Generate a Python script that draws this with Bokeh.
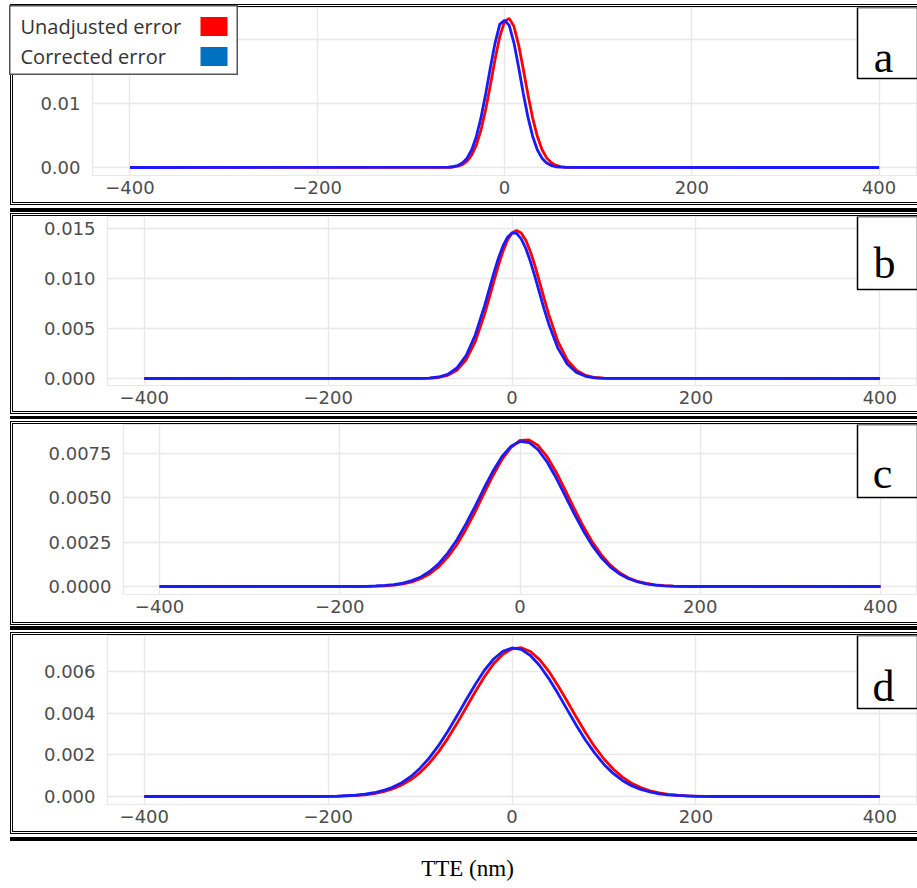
from bokeh.plotting import figure
from bokeh.models import Range1d, FixedTicker, PrintfTickFormatter, BoxAnnotation, Label, Div
from bokeh.layouts import column
from bokeh.embed import file_html
from bokeh.resources import INLINE

# ---------------- data ----------------
x_ticks = [-400, -200, 0, 200, 400]
x_tick_labels = ["\u2212400", "\u2212200", "0", "200", "400"]
series_names = ["Unadjusted error", "Corrected error"]
panel_letters = ["a", "b", "c", "d"]
x_axis_title = "TTE (nm)"

# panel a
a_x = [-400, -60, -55, -50, -45, -40, -35, -30, -25, -20, -15, -10, -5, 0, 5,
       10, 15, 20, 25, 30, 35, 40, 45, 50, 55, 60, 65, 70, 400]
a_unadjusted = [0, 0.00003, 0.00008, 0.0002, 0.00046, 0.00099, 0.00195, 0.00354, 0.00593,
                0.00914, 0.01298, 0.01699, 0.0205, 0.0228, 0.0233, 0.02206, 0.0192, 0.01541,
                0.01139, 0.00776, 0.00487, 0.00282, 0.0015, 0.00074, 0.00033, 0.00014,
                0.00005, 0.00002, 0]
a_corrected = [0, 0.00005, 0.00012, 0.0003, 0.0007, 0.00146, 0.00278, 0.00489, 0.00787,
               0.01161, 0.01572, 0.01952, 0.0224, 0.0230, 0.0222, 0.01952, 0.01572, 0.01161,
               0.00787, 0.00489, 0.00278, 0.00146, 0.0007, 0.0003, 0.00012, 0.00005,
               0.00002, 0.00001, 0]
a_y_ticks = [0.0, 0.01, 0.02]

# panel b
b_x = [-400, -100, -90, -80, -70, -60, -50, -40, -30, -25, -20, -15, -10, -5, 0, 5, 10,
       15, 20, 25, 30, 35, 40, 50, 60, 70, 80, 90, 100, 110, 400]
b_unadjusted = [0, 0.00001, 0.00003, 0.0001, 0.00031, 0.00082, 0.00186, 0.00369, 0.00639,
                0.00798, 0.00964, 0.01125, 0.01268, 0.01382, 0.01455, 0.0148, 0.01455,
                0.01382, 0.01268, 0.01125, 0.00964, 0.00798, 0.00639, 0.00369, 0.00186,
                0.00082, 0.00031, 0.0001, 0.00003, 0.00001, 0]
b_corrected = [0, 0.00001, 0.00004, 0.00015, 0.00042, 0.00105, 0.00228, 0.00435, 0.00724,
               0.00886, 0.01048, 0.01198, 0.01323, 0.01412, 0.01456, 0.01451, 0.01397,
               0.013, 0.01169, 0.01016, 0.00853, 0.00692, 0.00543, 0.00301, 0.00145,
               0.00061, 0.00022, 0.00007, 0.00002, 0.00001, 0]
b_y_ticks = [0.0, 0.005, 0.010, 0.015]

# panel c
c_x = [-400, -180, -170, -160, -150, -140, -130, -120, -110, -100, -90, -80, -70, -60, -50,
       -40, -30, -20, -10, 0, 10, 20, 30, 40, 50, 60, 70, 80, 90, 100, 110, 120, 130, 140,
       150, 160, 170, 180, 190, 400]
c_unadjusted = [0, 0.0, 0.00001, 0.00002, 0.00004, 0.00008, 0.00015, 0.00026, 0.00045,
                0.00072, 0.00112, 0.00167, 0.00237, 0.00323, 0.0042, 0.00525, 0.00626,
                0.00717, 0.00785, 0.00824, 0.00827, 0.00795, 0.00732, 0.00646, 0.00545,
                0.00441, 0.00341, 0.00253, 0.0018, 0.00122, 0.00079, 0.00049, 0.00029,
                0.00017, 0.00009, 0.00005, 0.00002, 0.00001, 0.0, 0]
c_corrected = [0, 0.00001, 0.00001, 0.00003, 0.00006, 0.00011, 0.00019, 0.00033, 0.00054,
               0.00086, 0.0013, 0.0019, 0.00264, 0.00353, 0.00451, 0.00554, 0.00651,
               0.00733, 0.00791, 0.00818, 0.00812, 0.00771, 0.00702, 0.00613, 0.00513,
               0.00411, 0.00316, 0.00232, 0.00164, 0.00111, 0.00072, 0.00045, 0.00027,
               0.00015, 0.00008, 0.00004, 0.00002, 0.00001, 0.00001, 0]
c_y_ticks = [0.0, 0.0025, 0.005, 0.0075]

# panel d
d_x = [-400, -220, -210, -200, -190, -180, -170, -160, -150, -140, -130, -120, -110, -100,
       -90, -80, -70, -60, -50, -40, -30, -20, -10, 0, 10, 20, 30, 40, 50, 60, 70, 80, 90,
       100, 110, 120, 130, 140, 150, 160, 170, 180, 190, 200, 210, 220, 230, 400]
d_unadjusted = [0, 0.0, 0.0, 0.00001, 0.00001, 0.00003, 0.00005, 0.00008, 0.00014, 0.00023,
                0.00036, 0.00055, 0.00081, 0.00115, 0.0016, 0.00214, 0.00278, 0.0035,
                0.00426, 0.00503, 0.00575, 0.00637, 0.00683, 0.00709, 0.00714, 0.00696,
                0.00657, 0.00601, 0.00532, 0.00457, 0.0038, 0.00306, 0.00238, 0.0018,
                0.00132, 0.00093, 0.00064, 0.00043, 0.00027, 0.00017, 0.0001, 0.00006,
                0.00003, 0.00002, 0.00001, 0.00001, 0.0, 0]
d_corrected = [0, 0.0, 0.00001, 0.00001, 0.00002, 0.00004, 0.00006, 0.00011, 0.00018,
               0.00029, 0.00044, 0.00066, 0.00096, 0.00136, 0.00185, 0.00244, 0.00312,
               0.00386, 0.00463, 0.00538, 0.00606, 0.0066, 0.00697, 0.00713, 0.00706,
               0.00677, 0.00629, 0.00566, 0.00494, 0.00417, 0.00341, 0.0027, 0.00208,
               0.00154, 0.00111, 0.00077, 0.00052, 0.00034, 0.00022, 0.00013, 0.00008,
               0.00005, 0.00003, 0.00001, 0.00001, 0.0, 0.0, 0]
d_y_ticks = [0.0, 0.002, 0.004, 0.006]

# ---------------- styling ----------------
RED = "#ff0000"
BLUE = "#1a1aff"
LEGEND_BLUE = "#0070c0"
GRID = "#e8e8e8"
TICK_FONT = "DejaVu Sans"
TICK_SIZE = "18px"
TICK_COLOR = "#4d4d4d"
FIG_W = 904


def make_panel(xs, yu, yc, yticks, fmt, y_start, y_end, height, mb_left, mb_bottom):
    p = figure(width=FIG_W, height=height, output_backend="svg", toolbar_location=None,
               x_range=Range1d(-440, 441), y_range=Range1d(y_start, y_end),
               min_border_left=mb_left, min_border_right=0,
               min_border_top=0, min_border_bottom=mb_bottom)
    p.line(xs, yu, line_color=RED, line_width=2.8)
    p.line(xs, yc, line_color=BLUE, line_width=2.8)
    p.xaxis.ticker = FixedTicker(ticks=x_ticks)
    p.xaxis.major_label_overrides = {t: l for t, l in zip(x_ticks, x_tick_labels)}
    p.yaxis.ticker = FixedTicker(ticks=yticks)
    p.yaxis.formatter = PrintfTickFormatter(format=fmt)
    p.xgrid.ticker = FixedTicker(ticks=x_ticks)
    p.ygrid.ticker = FixedTicker(ticks=yticks)
    for ax in (p.xaxis, p.yaxis):
        ax.axis_line_color = None
        ax.major_tick_line_color = None
        ax.minor_tick_line_color = None
        ax.major_tick_out = 0
        ax.major_tick_in = 0
        ax.major_label_text_font = TICK_FONT
        ax.major_label_text_font_size = TICK_SIZE
        ax.major_label_text_color = TICK_COLOR
    p.xaxis.major_label_standoff = 5
    p.yaxis.major_label_standoff = 12
    p.grid.grid_line_color = GRID
    p.grid.grid_line_width = 1.4
    p.outline_line_color = GRID
    p.outline_line_width = 1.2
    p.background_fill_color = "white"
    p.border_fill_color = "white"
    return p


def letter_box(p, letter, frame_left, frame_bottom, bottom_abs, cx_abs, base_abs):
    # box hangs from the top edge of the panel, right edge runs off the page
    p.add_layout(BoxAnnotation(left=857 - frame_left, bottom=frame_bottom - bottom_abs,
                               left_units="screen", bottom_units="screen",
                               fill_color="white", fill_alpha=1.0,
                               line_color="black", line_alpha=1.0, line_width=1.5))
    p.add_layout(Label(x=cx_abs - frame_left, y=frame_bottom - base_abs,
                       x_units="screen", y_units="screen", text=letter,
                       text_font="Liberation Serif", text_font_size="44px",
                       text_color="black", text_align="center",
                       text_baseline="alphabetic"))


# panel a: frame x 92..917, y 7..175   (0 at y=167, 6400 px per unit)
pa = make_panel(a_x, a_unadjusted, a_corrected, a_y_ticks, "%.2f",
                -0.00125, 0.025, 195, 79, 27)
pa.yaxis.major_label_overrides = {0.02: ""}
letter_box(pa, panel_letters[0], 92, 175, 78, 883, 57)

# panel b: frame x 107..917, y 216..385  (0 at y=378, 10000 px per unit)
pb = make_panel(b_x, b_unadjusted, b_corrected, b_y_ticks, "%.3f",
                -0.0007, 0.0162, 195, 94, 26)
letter_box(pb, panel_letters[1], 107, 385, 289, 884, 263)

# panel c: frame x 123..917, y 424..594  (0 at y=586)
pc = make_panel(c_x, c_unadjusted, c_corrected, c_y_ticks, "%.4f",
                -0.000451, 0.009135, 198, 110, 28)
letter_box(pc, panel_letters[2], 123, 594, 497, 882, 473)

# panel d: frame x 107..917, y 635..804  (0 at y=796)
pd_ = make_panel(d_x, d_unadjusted, d_corrected, d_y_ticks, "%.3f",
                 -0.000384, 0.007728, 196, 94, 27)
letter_box(pd_, panel_letters[3], 107, 804, 708, 883, 686)

# ---------------- legend (labels left, colour swatches right) ----------------
LEG_W, LEG_H = 229, 70
leg = figure(width=LEG_W, height=LEG_H, output_backend="svg", toolbar_location=None,
             x_range=Range1d(0, LEG_W), y_range=Range1d(0, LEG_H),
             min_border=0, min_border_left=0, min_border_right=0,
             min_border_top=0, min_border_bottom=0, margin=0)
leg.axis.visible = False
leg.grid.visible = False
leg.outline_line_color = "#555555"
leg.outline_line_width = 2
leg.background_fill_color = "white"
leg.border_fill_color = "white"
for i, (name, col) in enumerate(zip(series_names, [RED, LEGEND_BLUE])):
    cy = 49 - 30 * i
    leg.add_layout(BoxAnnotation(left=191, right=218, bottom=cy - 9.5, top=cy + 9.5,
                                 fill_color=col, fill_alpha=1.0, line_color=None))
    leg.add_layout(Label(x=11, y=cy, text=name, text_font="Open Sans",
                         text_font_size="20px", text_color="#333333",
                         text_baseline="middle", text_align="left"))
leg_holder = column(leg, margin=0, spacing=0,
                    styles={"position": "absolute", "left": "-4px", "top": "-2px",
                            "z-index": "10"})

BORDER = {"border-top": "3px double black", "border-bottom": "3px double black",
          "border-left": "3px double black", "border-right": "none",
          "position": "relative"}


def wrap(children, top):
    return column(*children, margin=(top, 0, 0, 10), styles=BORDER, spacing=0)


def bar(top, h):
    return Div(text="", width=907, height=h, margin=(top, 0, 0, 10),
               styles={"background-color": "black"})


pt = figure(width=907, height=47, output_backend="svg", toolbar_location=None,
            x_range=Range1d(0, 1), y_range=Range1d(0, 1),
            min_border=0, min_border_left=0, min_border_right=0,
            min_border_top=0, min_border_bottom=0)
pt.axis.visible = False
pt.grid.visible = False
pt.outline_line_color = None
pt.add_layout(Label(x=457, y=20, x_units="screen", y_units="screen", text=x_axis_title,
                    text_font="Liberation Serif", text_font_size="23px", text_color="black",
                    text_align="center", text_baseline="middle"))
pt.margin = (0, 0, 0, 10)

layout = column(wrap([pa, leg_holder], 4), bar(3, 4), wrap([pb], 1), bar(2, 3),
                wrap([pc], 2), bar(1, 4), wrap([pd_], 2), bar(3, 4), pt, spacing=0)

open("out.html", "w").write(file_html(layout, INLINE))
